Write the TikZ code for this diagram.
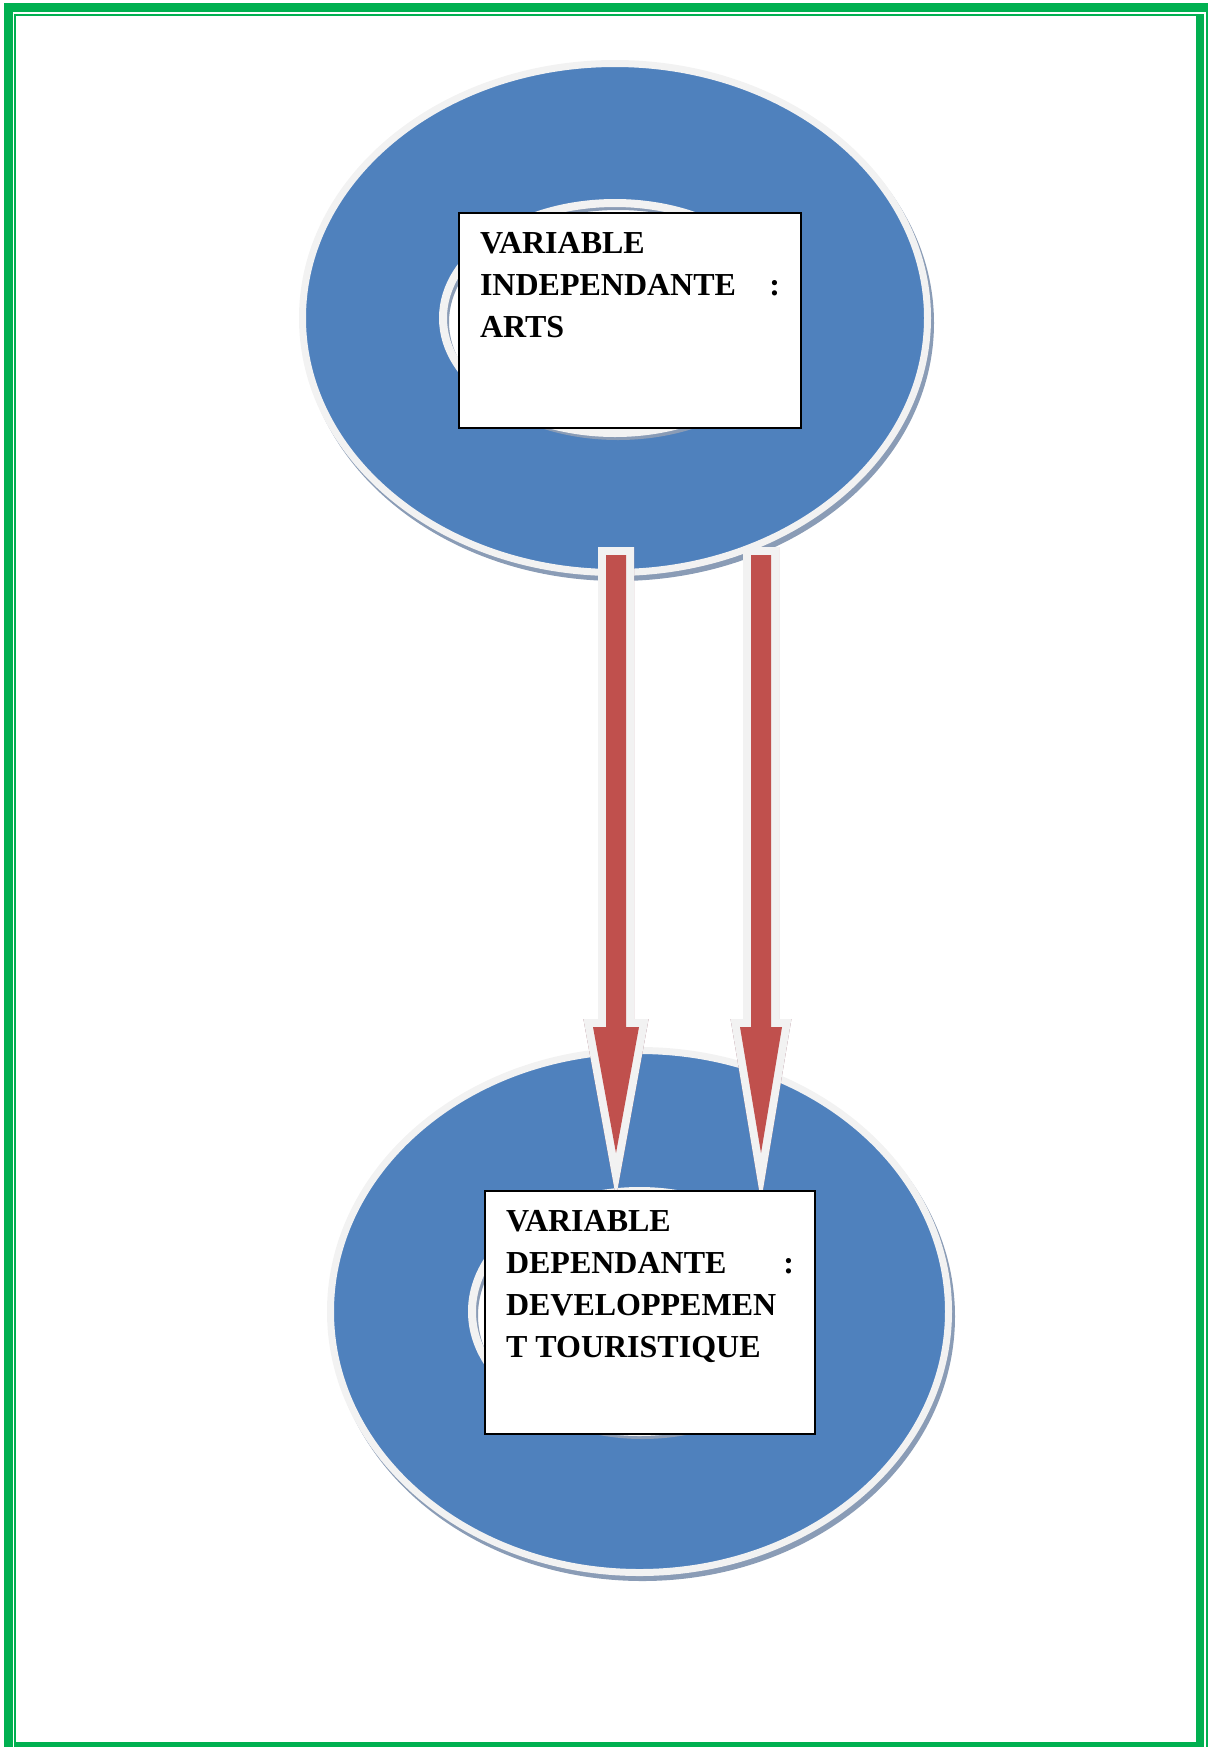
\documentclass[tikz,border=0pt]{standalone}
\usepackage{fontspec}
\setmainfont{Liberation Serif}
\usetikzlibrary{calc}

\definecolor{pagegreen}{HTML}{00B050}
\definecolor{ringblue}{HTML}{4F81BD}
\definecolor{ringedge}{HTML}{F2F2F2}
\definecolor{ringshadow}{RGB}{138,156,182}
\definecolor{arrowred}{HTML}{C0504D}
\definecolor{arrowshadow}{RGB}{150,96,110}

\tikzset{
  ring/.style={fill=ringblue, draw=ringedge, line width=3.5pt},
  ringshade/.style={fill=ringshadow, draw=ringshadow, line width=3.5pt},
  hole/.style={draw=ringedge, line width=4pt},
  holeshade/.style={draw=ringshadow, line width=3pt},
  fatarrow/.style={fill=arrowred, preaction={draw=ringedge, line width=8pt, miter limit=10}},
  fatshade/.style={draw=arrowshadow, line width=8pt, miter limit=10},
  varbox/.style={draw, line width=1pt, fill=white, inner xsep=10.5pt, inner ysep=0pt,
    anchor=north west, font=\fontsize{16pt}{21pt}\selectfont\bfseries}
}

\begin{document}
\begin{tikzpicture}[x=0.5pt, y=-0.5pt]
  \useasboundingbox (0,0) rectangle (1209,1747);
  % page border
  \fill[pagegreen] (4,3) rectangle (1208,12);
  \fill[pagegreen] (14,14) rectangle (1204,16);
  \fill[pagegreen] (4,3) rectangle (13,1747);
  \fill[pagegreen] (14,14) rectangle (16,1742);
  \fill[pagegreen] (1196,14) rectangle (1204,1747);
  \fill[pagegreen] (1206,3) rectangle (1208,1747);
  \fill[pagegreen] (14,1742) rectangle (1204,1747);
  % rings
  \foreach \cx/\cy/\rx/\ry/\hx/\hy in {615/318/312.5/254.5/172/115, 639.5/1311.5/309/261/167.5/120.5} {
    \path[ringshade] (\cx+3,\cy+5) ellipse [x radius=\rx, y radius=\ry];
    \path[ring] (\cx,\cy) ellipse [x radius=\rx, y radius=\ry];
    \fill[white] (\cx,\cy) ellipse [x radius=\hx, y radius=\hy];
    \path[holeshade] (\cx+3,\cy+4) ellipse [x radius=\hx, y radius=\hy];
    \path[hole] (\cx,\cy) ellipse [x radius=\hx, y radius=\hy];
  }
  % arrows
  \foreach \ax/\hw/\nm in {616/23/l, 761/21/r} {
    \coordinate (\nm top) at (\ax,555);
    \coordinate (\nm tip) at (\ax,1153);
    \path[fatshade, shift={(2,2)}] ($(\nm top)+(-10,0)$) -- ($(\nm top)+(10,0)$)
      -- ($(\nm tip)+(10,-126)$) -- ($(\nm tip)+(\hw,-126)$) -- (\nm tip)
      -- ($(\nm tip)+(-\hw,-126)$) -- ($(\nm tip)+(-10,-126)$) -- cycle;
    \path[fatarrow] ($(\nm top)+(-10,0)$) -- ($(\nm top)+(10,0)$)
      -- ($(\nm tip)+(10,-126)$) -- ($(\nm tip)+(\hw,-126)$) -- (\nm tip)
      -- ($(\nm tip)+(-\hw,-126)$) -- ($(\nm tip)+(-10,-126)$) -- cycle;
  }
  % boxes
  \node[varbox] (indep) at (458,212) {\parbox[t][107.5pt][t]{150pt}{\rule{0pt}{20pt}VARIABLE\\
    INDEPENDANTE\hfill :\\ARTS}};
  \node[varbox] (dep) at (484,1190) {\parbox[t][121.5pt][t]{144pt}{\rule{0pt}{20pt}VARIABLE\\
    DEPENDANTE\hfill :\\DEVELOPPEMEN\\T TOURISTIQUE}};
\end{tikzpicture}
\end{document}
